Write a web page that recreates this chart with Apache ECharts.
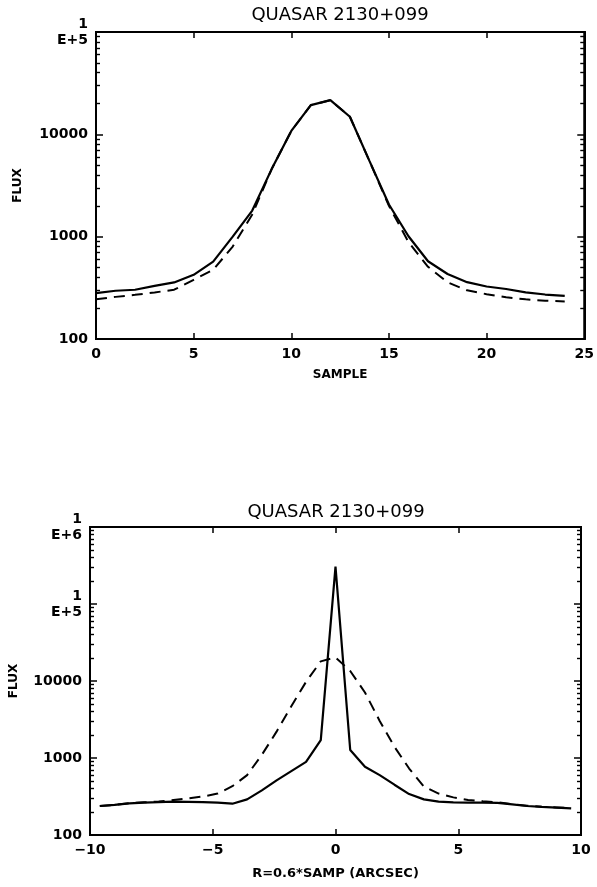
<!DOCTYPE html>
<html>
<head>
<meta charset="utf-8">
<script src="https://cdn.jsdelivr.net/npm/echarts@6/dist/echarts.min.js"></script>
<style>
html,body{margin:0;padding:0;background:#fff;}
#chart{width:597px;height:887px;}
</style>
</head>
<body>
<div id="chart"></div>
<script>
// ---- Top panel: flux vs sample ----
const topSamples = [0,1,2,3,4,5,6,7,8,9,10,11,12,13,14,15,16,17,18,19,20,21,22,23,24];
const topSolid  = [281,296,303,330,357,424,571,1000,1800,4600,10800,19300,21600,14860,5500,2060,1010,575,432,359,326,308,286,272,264];
const topDashed = [245,258,270,285,303,379,474,800,1650,4600,10800,19300,21600,14860,5500,2000,885,508,358,299,274,256,244,237,233];

// ---- Bottom panel: flux vs radius R = 0.6*SAMP (arcsec) ----
const rValues = [-9.6,-9.0,-8.4,-7.8,-7.2,-6.6,-6.0,-5.4,-4.8,-4.2,-3.6,-3.0,-2.4,-1.8,-1.2,-0.6,0,
                 0.6,1.2,1.8,2.4,3.0,3.6,4.2,4.8,5.4,6.0,6.6,7.2,7.8,8.4,9.0,9.6];
const bottomSolid  = [238,246,258,264,267,271,270,268,263,255,290,380,513,676,890,1710,305000,
                      1270,771,600,450,340,290,271,266,263,263,262,250,238,232,227,222];
const bottomDashed = [238,246,258,266,272,285,298,316,345,430,600,1100,2200,4700,9750,18000,20300,
                      13500,7100,3030,1400,730,425,345,308,285,275,266,252,240,233,228,223];

// tick labels / ranges
const titleText = 'QUASAR 2130+099';
const topXTicks = [0, 25, 5];
const bottomXTicks = [-10, 10, 5];
const topYRange = [100, 100000];
const bottomYRange = [100, 1000000];
const minorMult = [2,3,4,5,6,7,8,9];

function minorLogs(lo, hi) {
  const out = [];
  for (let d = lo; d < hi; d *= 10) minorMult.forEach(m => out.push(Math.log10(d * m)));
  return out;
}

const FONT = 'DejaVu Sans';
const labelStyle = { fontFamily: FONT, fontWeight: 'bold', fontSize: 14, color: '#000' };
const black = '#000';

function yLabel(v) {
  const e = Math.round(Math.log10(v));
  if (e >= 5) return '1\nE+' + e;
  return String(Math.round(v));
}
function xLabel(v) {
  return v < 0 ? '\u2212' + Math.abs(v) : String(v);
}

function buildAxes(gridIndex, xr, yr, xName, xNameGap, yNameGap) {
  const edgeLine = { show: true, onZero: false, lineStyle: { color: black, width: 2 } };
  const xs = [
    { gridIndex, type: 'value', position: 'bottom', min: xr[0], max: xr[1], interval: xr[2],
      axisLine: edgeLine,
      axisTick: { show: true, inside: true, length: 6, lineStyle: { color: black, width: 1.5 } },
      axisLabel: Object.assign({ margin: 8, formatter: xLabel }, labelStyle),
      splitLine: { show: false },
      name: xName, nameLocation: 'middle', nameGap: xNameGap,
      nameTextStyle: { fontFamily: FONT, fontWeight: 'bold', fontSize: xName.length > 8 ? 13 : 12, color: black } },
    { gridIndex, type: 'value', position: 'top', min: xr[0], max: xr[1], interval: xr[2],
      axisLine: edgeLine, axisLabel: { show: false }, splitLine: { show: false },
      axisTick: { show: true, inside: true, length: 6, lineStyle: { color: black, width: 1.5 } } }
  ];
  const lo = Math.log10(yr[0]), hi = Math.log10(yr[1]);
  const ys = [
    { gridIndex, type: 'log', logBase: 10, position: 'left', min: yr[0], max: yr[1],
      axisLine: edgeLine,
      axisTick: { show: true, inside: true, length: 7, lineStyle: { color: black, width: 1.5 } },
      axisLabel: Object.assign({ margin: 8, formatter: yLabel, lineHeight: 16 }, labelStyle),
      splitLine: { show: false }, minorTick: { show: false },
      name: 'FLUX', nameLocation: 'middle', nameGap: yNameGap,
      nameTextStyle: { fontFamily: FONT, fontWeight: 'bold', fontSize: 12, color: black } },
    { gridIndex, type: 'value', position: 'left', min: lo, max: hi,
      axisLine: edgeLine, axisLabel: { show: false }, splitLine: { show: false },
      axisTick: { show: true, inside: true, length: 4, customValues: minorLogs(yr[0], yr[1]),
                  lineStyle: { color: black, width: 1.4 } } },
    { gridIndex, type: 'value', position: 'right', min: lo, max: hi, interval: 1,
      axisLine: edgeLine, axisLabel: { show: false }, splitLine: { show: false },
      axisTick: { show: true, inside: true, length: 7, lineStyle: { color: black, width: 1.5 } } },
    { gridIndex, type: 'value', position: 'right', min: lo, max: hi,
      axisLine: edgeLine, axisLabel: { show: false }, splitLine: { show: false },
      axisTick: { show: true, inside: true, length: 4, customValues: minorLogs(yr[0], yr[1]),
                  lineStyle: { color: black, width: 1.4 } } }
  ];
  return { xs, ys };
}

const a1 = buildAxes(0, topXTicks, topYRange, 'SAMPLE', 30, 72);
const a2 = buildAxes(1, bottomXTicks, bottomYRange, 'R=0.6*SAMP (ARCSEC)', 32, 70);

function pairs(xs, ys) { return xs.map((x, i) => [x, ys[i]]); }

const dashStyle = { color: black, width: 2, type: [11, 7] };
const solidStyle = { color: black, width: 2.2 };

const option = {
  animation: false,
  backgroundColor: '#fff',
  graphic: [
    { type: 'text', x: 340, y: 15, style: { text: titleText, fontFamily: FONT, fontSize: 18, fill: black,
      align: 'center', verticalAlign: 'middle' } },
    { type: 'text', x: 336, y: 512, style: { text: titleText, fontFamily: FONT, fontSize: 18, fill: black,
      align: 'center', verticalAlign: 'middle' } }
  ],
  grid: [
    { left: 96, top: 32, right: 11, height: 307, show: true, borderColor: black, borderWidth: 2, containLabel: false },
    { left: 90, top: 527, right: 16, height: 308, show: true, borderColor: black, borderWidth: 2, containLabel: false }
  ],
  xAxis: a1.xs.concat(a2.xs),
  yAxis: a1.ys.concat(a2.ys),
  series: [
    { type: 'line', xAxisIndex: 0, yAxisIndex: 0, data: pairs(topSamples, topDashed), symbol: 'none',
      lineStyle: dashStyle, z: 2 },
    { type: 'line', xAxisIndex: 0, yAxisIndex: 0, data: pairs(topSamples, topSolid), symbol: 'none',
      lineStyle: solidStyle, z: 3 },
    { type: 'line', xAxisIndex: 2, yAxisIndex: 4, data: pairs(rValues, bottomDashed), symbol: 'none',
      lineStyle: dashStyle, z: 2 },
    { type: 'line', xAxisIndex: 2, yAxisIndex: 4, data: pairs(rValues, bottomSolid), symbol: 'none',
      lineStyle: solidStyle, z: 3 }
  ]
};

const chart = echarts.init(document.getElementById('chart'), null, { renderer: 'canvas' });
chart.setOption(option);
</script>
</body>
</html>
